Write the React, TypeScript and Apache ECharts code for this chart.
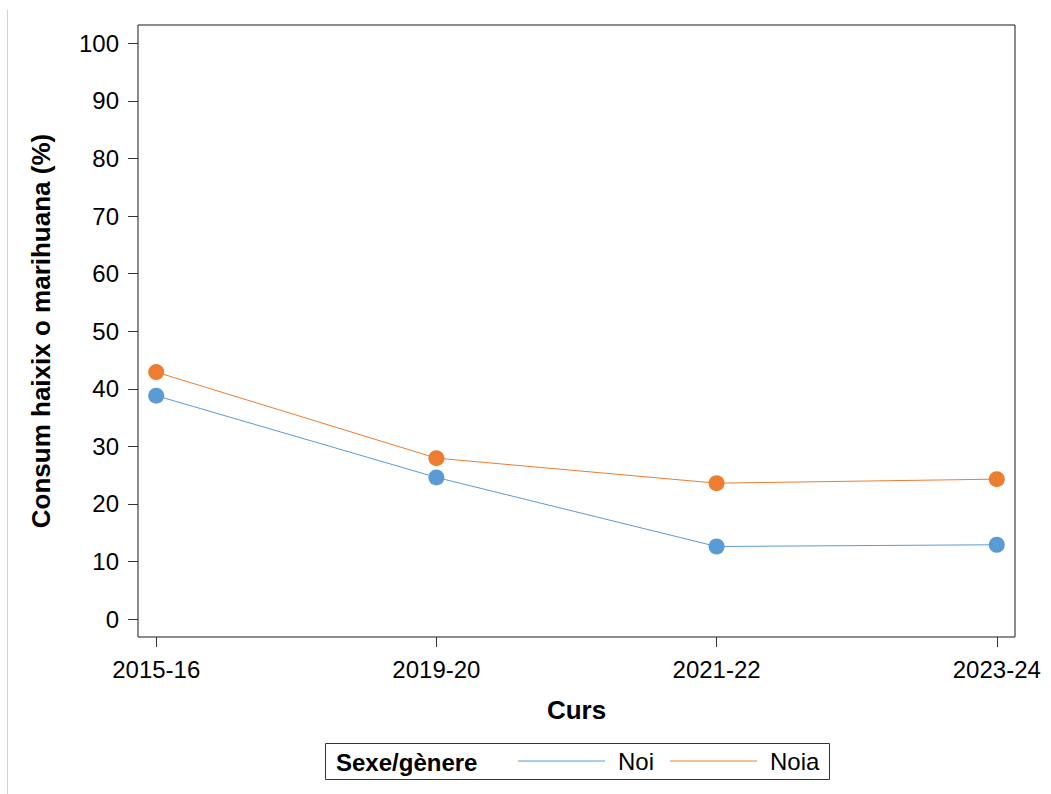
import React, { useEffect, useRef } from "react";
import * as echarts from "echarts";

const categories = ["2015-16", "2019-20", "2021-22", "2023-24"];
const noiValues = [38.8, 24.6, 12.6, 12.9];
const noiaValues = [42.9, 27.95, 23.6, 24.3];
const yTicks = [0, 10, 20, 30, 40, 50, 60, 70, 80, 90, 100];
const xTicks = [0, 1, 2, 3];

const FONT = "'Liberation Sans', Arial, Helvetica, sans-serif";

export default function App() {
  const ref = useRef<HTMLDivElement>(null);
  useEffect(() => {
    if (!ref.current) return;
    const chart = echarts.init(ref.current, undefined, { renderer: "svg" });
    const toPairs = (vals: number[]) => vals.map((v, i) => [i, v]);
    chart.setOption({
      animation: false,
      backgroundColor: "#ffffff",
      textStyle: { fontFamily: FONT },
      grid: {
        left: 138,
        top: 25,
        right: 36,
        bottom: 157,
        show: true,
        borderColor: "#1a1a1a",
        borderWidth: 1,
        backgroundColor: "transparent",
      },
      xAxis: {
        type: "value",
        min: -0.065,
        max: 3.065,
        name: "Curs",
        nameLocation: "middle",
        nameGap: 60,
        nameTextStyle: { fontFamily: FONT, fontSize: 26, fontWeight: "bold", color: "#000" },
        axisLine: { show: false, onZero: false },
        splitLine: { show: false },
        axisTick: { show: true, customValues: xTicks, length: 10, inside: false, lineStyle: { color: "#333", width: 1 } },
        axisLabel: {
          customValues: xTicks,
          margin: 20,
          fontSize: 24,
          fontFamily: FONT,
          color: "#000",
          formatter: (v: number) => categories[Math.round(v)] ?? "",
        },
      },
      yAxis: {
        type: "value",
        min: -3.125,
        max: 103.2,
        name: "Consum haixix o marihuana (%)",
        nameLocation: "middle",
        nameGap: 84,
        nameTextStyle: { fontFamily: FONT, fontSize: 26, fontWeight: "bold", color: "#000" },
        axisLine: { show: false, onZero: false },
        splitLine: { show: false },
        axisTick: { show: true, customValues: yTicks, length: 10, inside: false, lineStyle: { color: "#333", width: 1 } },
        axisLabel: {
          customValues: yTicks,
          margin: 19,
          fontSize: 24,
          fontFamily: FONT,
          color: "#000",
        },
      },
      legend: {
        left: 518,
        top: 749,
        padding: 0,
        itemGap: 16,
        itemWidth: 87,
        itemHeight: 1,
        icon: "rect",
        textStyle: { fontFamily: FONT, fontSize: 24, color: "#000", padding: [0, 0, 0, 8] },
        data: ["Noi", "Noia"],
      },
      graphic: [
        {
          type: "line",
          shape: { x1: 7.5, y1: 10, x2: 7.5, y2: 794 },
          style: { stroke: "#d0d0d0", lineWidth: 1 },
          silent: true,
        },
        {
          type: "rect",
          shape: { x: 325.5, y: 743.5, width: 504, height: 36 },
          style: { fill: "none", stroke: "#333", lineWidth: 1 },
          silent: true,
        },
        {
          type: "text",
          x: 336,
          y: 762,
          style: {
            text: "Sexe/gènere",
            font: `bold 24px ${FONT}`,
            fill: "#000",
            verticalAlign: "middle",
            align: "left",
          },
          silent: true,
        },
      ],
      series: [
        {
          name: "Noi",
          type: "line",
          data: toPairs(noiValues),
          symbol: "circle",
          symbolSize: 16,
          lineStyle: { color: "#5b9bd5", width: 1 },
          itemStyle: { color: "#5b9bd5" },
        },
        {
          name: "Noia",
          type: "line",
          data: toPairs(noiaValues),
          symbol: "circle",
          symbolSize: 16,
          lineStyle: { color: "#ed7d31", width: 1 },
          itemStyle: { color: "#ed7d31" },
        },
      ],
    });
    return () => chart.dispose();
  }, []);
  return (
    <div
      ref={ref}
      style={{ position: "fixed", left: 0, top: 0, width: 1051, height: 794, background: "#fff" }}
    />
  );
}
